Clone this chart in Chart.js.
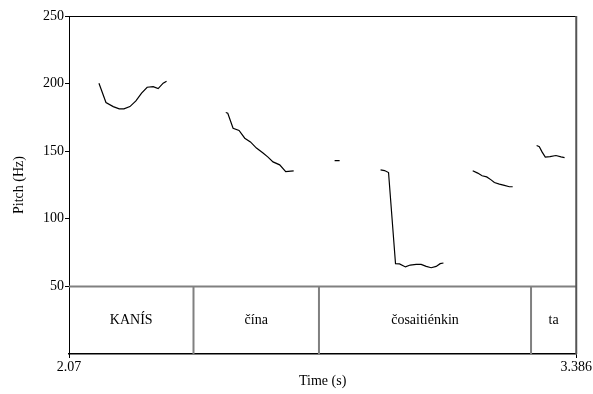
<!DOCTYPE html>
<html>
<head>
<meta charset="utf-8">
<script src="https://cdn.jsdelivr.net/npm/chart.js@4"></script>
<style>
  html, body { margin: 0; padding: 0; background: #ffffff; }
  #wrap { width: 593px; height: 394px; position: relative; }
</style>
</head>
<body>
<div id="wrap"><canvas id="pitch"></canvas></div>
<script>
// Pitch contour (s, Hz); null marks an unvoiced gap between stretches
const pitchTime = [
  2.1477, 2.1659, 2.1848, 2.2003, 2.2125, 2.2280, 2.2436, 2.2583, 2.2728, 2.2884, 2.3013, 2.3143, 2.3231,
  2.40,
  2.4767, 2.4819, 2.4957, 2.5112, 2.5260, 2.5407, 2.5563, 2.5734, 2.5863, 2.5993, 2.6166, 2.6322, 2.6529,
  2.70,
  2.7591, 2.7721,
  2.82,
  2.8783, 2.8886, 2.8990, 2.9171, 2.9275, 2.9430, 2.9552, 2.9707, 2.9837, 2.9967, 3.0096, 3.0226, 3.0329, 3.0415,
  3.08,
  3.1174, 3.1304, 3.1417, 3.1537, 3.1651, 3.1736, 3.1866, 3.1995, 3.2125, 3.2211,
  3.25,
  3.2832, 3.2902, 3.2972, 3.3057, 3.3179, 3.3334, 3.3464, 3.3557
];
const pitchHz = [
  200.3, 186.0, 183.0, 181.3, 181.3, 183.0, 187.2, 192.9, 197.3, 197.8, 196.3, 200.3, 201.8,
  null,
  178.6, 178.1, 167.0, 165.3, 159.6, 156.9, 152.3, 148.6, 145.6, 142.1, 139.9, 134.9, 135.5,
  null,
  143.1, 143.1,
  null,
  136.2, 135.7, 134.2, 66.8, 66.6, 64.4, 65.8, 66.3, 66.3, 64.8, 63.8, 64.8, 66.8, 67.3,
  null,
  135.5, 133.8, 131.8, 131.0, 128.8, 126.8, 125.7, 124.7, 123.7, 123.7,
  null,
  154.2, 153.4, 149.5, 145.6, 146.0, 146.8, 145.8, 145.3
];

// Word tier: interval boundaries (s) and word labels
const tierBounds = [2.393, 2.7185, 3.2687];
const tierWords = ['KANÍS', 'čína', 'čosaitiénkin', 'ta'];

// Axis ranges and ticks
const timeStart = 2.07;
const timeEnd = 3.386;
const xTicks = [2.07, 3.386];
const yTicks = [50, 100, 150, 200, 250];
const tierTopHz = 50;   // the word tier fills the band below this value
const yMin = 0;
const yMax = 250;

const FONT = '"Liberation Serif", "Times New Roman", serif';
Chart.defaults.font.family = FONT;
Chart.defaults.font.size = 14;
Chart.defaults.font.weight = 'normal';
Chart.defaults.color = '#000000';

const tierPlugin = {
  id: 'wordTier',
  afterDatasetsDraw(chart) {
    const { ctx, chartArea: a, scales: { x, y } } = chart;
    const yTop = y.getPixelForValue(tierTopHz);
    const yBot = y.getPixelForValue(yMin);
    ctx.save();
    // tier separators
    ctx.strokeStyle = '#808080';
    ctx.lineWidth = 2;
    ctx.beginPath();
    ctx.moveTo(a.left, yTop);
    ctx.lineTo(a.right, yTop);
    tierBounds.forEach(t => {
      const px = x.getPixelForValue(t);
      ctx.moveTo(px, yTop);
      ctx.lineTo(px, yBot);
    });
    ctx.stroke();
    // words centred in their intervals
    const edges = [timeStart, ...tierBounds, timeEnd];
    ctx.fillStyle = '#000000';
    ctx.font = '14px ' + FONT;
    ctx.textAlign = 'center';
    ctx.textBaseline = 'middle';
    tierWords.forEach((w, i) => {
      const cx = (x.getPixelForValue(edges[i]) + x.getPixelForValue(edges[i + 1])) / 2;
      ctx.fillText(w, cx, (yTop + yBot) / 2);
    });
    // frame
    ctx.strokeStyle = '#000000';
    ctx.lineWidth = 1;
    ctx.beginPath();
    ctx.moveTo(a.left, a.top + 0.5);
    ctx.lineTo(a.right, a.top + 0.5);
    ctx.stroke();
    ctx.strokeStyle = '#555555';
    ctx.lineWidth = 2;
    ctx.beginPath();
    ctx.moveTo(a.right, a.top);
    ctx.lineTo(a.right, a.bottom);
    ctx.stroke();
    ctx.restore();
  }
};

new Chart(document.getElementById('pitch'), {
  type: 'line',
  data: {
    datasets: [{
      data: pitchTime.map((t, i) => ({ x: t, y: pitchHz[i] })),
      borderColor: '#000000',
      borderWidth: 1.2,
      pointRadius: 0,
      tension: 0,
      spanGaps: false
    }]
  },
  options: {
    responsive: true,
    maintainAspectRatio: false,
    animation: false,
    layout: { padding: { top: 16, right: 16, left: 0, bottom: 0 } },
    plugins: { legend: { display: false }, tooltip: { enabled: false } },
    scales: {
      x: {
        type: 'linear',
        min: timeStart,
        max: timeEnd,
        afterBuildTicks: s => { s.ticks = xTicks.map(v => ({ value: v })); },
        afterFit: s => { s.height = 40; },
        ticks: { callback: v => String(v), maxRotation: 0, padding: 1, autoSkip: false },
        grid: { drawOnChartArea: false, drawTicks: true, tickLength: 4, color: '#000000' },
        border: { display: true, color: '#000000', width: 1.5 },
        title: { display: true, text: 'Time (s)', font: { weight: 'normal' }, padding: { top: 0, bottom: 4.6 } }
      },
      y: {
        min: yMin,
        max: yMax,
        afterBuildTicks: s => { s.ticks = yTicks.map(v => ({ value: v })); },
        afterFit: s => { s.width = 69; },
        ticks: { padding: 1 },
        grid: { drawOnChartArea: false, drawTicks: true, tickLength: 4, color: '#000000' },
        border: { display: true, color: '#000000', width: 1 },
        title: { display: true, text: 'Pitch (Hz)', font: { weight: 'normal' }, padding: { top: 10.6, bottom: 0 } }
      }
    }
  },
  plugins: [tierPlugin]
});
</script>
</body>
</html>
